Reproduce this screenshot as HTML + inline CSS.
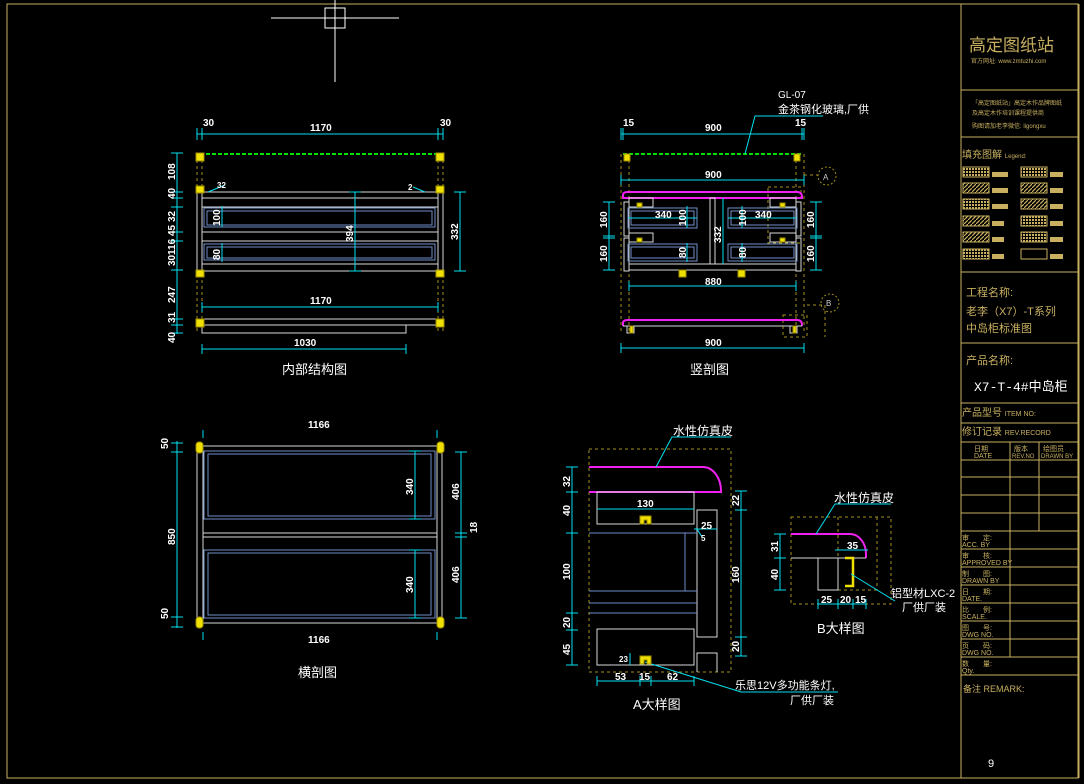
<!DOCTYPE html>
<html><head><meta charset="utf-8"><style>
html,body{margin:0;padding:0;background:#000;}
svg{display:block;}
text{font-family:"Liberation Sans","Noto Sans CJK SC",sans-serif;}
.d{fill:#fff;font-size:10px;font-weight:bold;}
.w{fill:#fff;font-size:13px;}
.g{fill:#c8b060;}
</style></head><body>
<svg width="1084" height="784" viewBox="0 0 1084 784" xmlns="http://www.w3.org/2000/svg">
<defs>
<pattern id="h1" width="4" height="4" patternUnits="userSpaceOnUse"><rect width="4" height="4" fill="#000"/><path d="M0 4L4 0" stroke="#c8b060" stroke-width="1.2"/></pattern>
<pattern id="h2" width="3" height="3" patternUnits="userSpaceOnUse"><rect width="3" height="3" fill="#000"/><rect width="2" height="2" fill="#c8b060"/></pattern>
</defs>
<rect x="0" y="0" width="1084" height="784" fill="#000"/>
<!-- frame -->
<g fill="none" stroke="#c8b060" stroke-width="1">
<rect x="7" y="4" width="1071" height="774"/>
<line x1="961" y1="4" x2="961" y2="778"/>
<line x1="1079" y1="4" x2="1079" y2="778"/>
<line x1="961" y1="90" x2="1079" y2="90"/>
<line x1="961" y1="137" x2="1079" y2="137"/>
<line x1="961" y1="272" x2="1079" y2="272"/>
<line x1="961" y1="343" x2="1079" y2="343"/>
<line x1="961" y1="403" x2="1079" y2="403"/>
<line x1="961" y1="423" x2="1079" y2="423"/>
<line x1="961" y1="442" x2="1079" y2="442"/>
<line x1="961" y1="460" x2="1079" y2="460"/>
<line x1="961" y1="477" x2="1079" y2="477"/>
<line x1="961" y1="495" x2="1079" y2="495"/>
<line x1="961" y1="513" x2="1079" y2="513"/>
<line x1="961" y1="531" x2="1079" y2="531"/>
<line x1="961" y1="549" x2="1079" y2="549"/>
<line x1="961" y1="567" x2="1079" y2="567"/>
<line x1="961" y1="585" x2="1079" y2="585"/>
<line x1="961" y1="603" x2="1079" y2="603"/>
<line x1="961" y1="621" x2="1079" y2="621"/>
<line x1="961" y1="639" x2="1079" y2="639"/>
<line x1="961" y1="657" x2="1079" y2="657"/>
<line x1="961" y1="675" x2="1079" y2="675"/>
<line x1="1010" y1="442" x2="1010" y2="657"/>
<line x1="1039" y1="442" x2="1039" y2="531"/>
</g>
<g class="g">
<text x="969" y="51" font-size="17" fill="#c8b060">高定图纸站</text>
<text x="971" y="63" font-size="6" fill="#c8b060">官方网址: www.zmtuzhi.com</text>
<text x="972" y="105" font-size="6" fill="#c8b060">「高定图纸站」高定木作品牌图纸</text>
<text x="972" y="115" font-size="6" fill="#c8b060">及高定木作培训课程提供商</text>
<text x="972" y="128" font-size="6" fill="#c8b060">购图请加老李微信: ligongxu</text>
<text x="962" y="158" font-size="10" fill="#c8b060">填充图解 <tspan font-size="6">Legend:</tspan></text>
<text x="966" y="296" font-size="11" fill="#c8b060">工程名称:</text>
<text x="966" y="315" font-size="11" fill="#c8b060">老李（X7）-T系列</text>
<text x="966" y="332" font-size="11" fill="#c8b060">中岛柜标准图</text>
<text x="966" y="364" font-size="11" fill="#c8b060">产品名称:</text>
<text x="962" y="416" font-size="10" fill="#c8b060">产品型号 <tspan font-size="7">ITEM NO:</tspan></text>
<text x="962" y="435" font-size="10" fill="#c8b060">修订记录 <tspan font-size="7">REV.RECORD</tspan></text>
<text x="974" y="451" font-size="7" fill="#c8b060">日期</text><text x="974" y="458" font-size="7" fill="#c8b060">DATE</text>
<text x="1014" y="451" font-size="7" fill="#c8b060">版本</text><text x="1012" y="458" font-size="6" fill="#c8b060">REV.NO</text>
<text x="1043" y="451" font-size="7" fill="#c8b060">绘图员</text><text x="1041" y="458" font-size="6" fill="#c8b060">DRAWN BY</text>
<g font-size="7" fill="#c8b060">
<text x="962" y="540">审　　定:</text><text x="962" y="547">ACC. BY</text>
<text x="962" y="558">审　　核:</text><text x="962" y="565">APPROVED BY</text>
<text x="962" y="576">制　　图:</text><text x="962" y="583">DRAWN BY</text>
<text x="962" y="594">日　　期:</text><text x="962" y="601">DATE.</text>
<text x="962" y="612">比　　例:</text><text x="962" y="619">SCALE.</text>
<text x="962" y="630">图　　号:</text><text x="962" y="637">DWG NO.</text>
<text x="962" y="648">页　　码:</text><text x="962" y="655">DWG NO.</text>
<text x="962" y="666">数　　量:</text><text x="962" y="673">Qty.</text>
</g>
<text x="963" y="692" font-size="9" fill="#c8b060">备注 REMARK:</text>
</g>
<text x="974" y="391" font-size="13" fill="#fff" style="font-family:'Liberation Mono','Noto Sans CJK SC',monospace">X7-T-4#中岛柜</text>
<text x="988" y="767" font-size="11" fill="#fff">9</text>
<!-- legend swatches -->
<g stroke="#c8b060" stroke-width="1">
<rect x="963" y="167" width="26" height="10" fill="url(#h2)"/><rect x="1021" y="167" width="26" height="10" fill="url(#h2)"/>
<rect x="963" y="183" width="26" height="10" fill="url(#h1)"/><rect x="1021" y="183" width="26" height="10" fill="url(#h1)"/>
<rect x="963" y="199" width="26" height="10" fill="url(#h2)"/><rect x="1021" y="199" width="26" height="10" fill="url(#h1)"/>
<rect x="963" y="216" width="26" height="10" fill="url(#h1)"/><rect x="1021" y="216" width="26" height="10" fill="url(#h2)"/>
<rect x="963" y="232" width="26" height="10" fill="url(#h1)"/><rect x="1021" y="232" width="26" height="10" fill="url(#h2)"/>
<rect x="963" y="249" width="26" height="10" fill="url(#h2)"/><rect x="1021" y="249" width="26" height="10" fill="#000"/>
</g>
<g fill="#c8b060">
<rect x="992" y="172" width="16" height="5"/><rect x="1050" y="172" width="13" height="5"/>
<rect x="992" y="188" width="16" height="5"/><rect x="1050" y="188" width="13" height="5"/>
<rect x="992" y="204" width="16" height="5"/><rect x="1050" y="204" width="13" height="5"/>
<rect x="992" y="221" width="12" height="5"/><rect x="1050" y="221" width="13" height="5"/>
<rect x="992" y="237" width="12" height="5"/><rect x="1050" y="237" width="13" height="5"/>
<rect x="992" y="254" width="12" height="5"/><rect x="1050" y="254" width="13" height="5"/>
</g>

<!-- crosshair -->
<g stroke="#fff" fill="none" stroke-width="1">
<rect x="325" y="8" width="20" height="20"/>
<line x1="271" y1="18" x2="399" y2="18"/><line x1="335" y1="0" x2="335" y2="82"/>
</g>

<!-- ============ 内部结构图 ============ -->
<g fill="none" stroke-width="1">
<line x1="200" y1="154" x2="440" y2="154" stroke="#00e000" stroke-width="2" stroke-dasharray="4,2"/>
<g stroke="#a09020" stroke-dasharray="3,3"><line x1="197" y1="154" x2="197" y2="333"/><line x1="202" y1="154" x2="202" y2="333"/><line x1="438" y1="154" x2="438" y2="333"/><line x1="443" y1="154" x2="443" y2="333"/></g>
<g stroke="#d8d8d8">
<rect x="197" y="192" width="246" height="79"/>
<line x1="202" y1="192" x2="202" y2="271"/><line x1="438" y1="192" x2="438" y2="271"/>
<line x1="202" y1="198" x2="438" y2="198"/><line x1="202" y1="207" x2="438" y2="207"/>
<line x1="202" y1="232" x2="438" y2="232"/><line x1="202" y1="241" x2="438" y2="241"/>
<line x1="202" y1="264" x2="438" y2="264"/>
<rect x="202" y="319" width="236" height="6"/>
<polyline points="202,325 202,333 406,333 406,325"/>
</g>
<g stroke="#7090c8">
<rect x="204" y="208" width="231" height="19"/><rect x="207" y="211" width="225" height="14"/>
<rect x="204" y="244" width="231" height="16"/><rect x="207" y="247" width="225" height="11"/>
</g>
<g stroke="#00e0f0">
<line x1="197" y1="134" x2="443" y2="134"/>
<line x1="197" y1="128" x2="197" y2="140"/><line x1="202" y1="128" x2="202" y2="140"/><line x1="438" y1="128" x2="438" y2="140"/><line x1="443" y1="128" x2="443" y2="140"/>
<line x1="202" y1="307" x2="438" y2="307"/><line x1="202" y1="302" x2="202" y2="312"/><line x1="438" y1="302" x2="438" y2="312"/>
<line x1="202" y1="349" x2="406" y2="349"/><line x1="202" y1="344" x2="202" y2="354"/><line x1="406" y1="344" x2="406" y2="354"/>
<line x1="177" y1="153" x2="177" y2="334"/>
<g><line x1="171" y1="153" x2="183" y2="153"/><line x1="171" y1="192" x2="183" y2="192"/><line x1="171" y1="198" x2="183" y2="198"/><line x1="171" y1="207" x2="183" y2="207"/><line x1="171" y1="232" x2="183" y2="232"/><line x1="171" y1="241" x2="183" y2="241"/><line x1="171" y1="270" x2="183" y2="270"/><line x1="171" y1="319" x2="183" y2="319"/><line x1="171" y1="325" x2="183" y2="325"/><line x1="171" y1="333" x2="183" y2="333"/></g>
<line x1="355" y1="192" x2="355" y2="271"/><line x1="349" y1="192" x2="361" y2="192"/><line x1="349" y1="271" x2="361" y2="271"/>
<line x1="460" y1="192" x2="460" y2="271"/><line x1="454" y1="192" x2="466" y2="192"/><line x1="454" y1="271" x2="466" y2="271"/>
<line x1="222" y1="206" x2="222" y2="227"/><line x1="222" y1="243" x2="222" y2="262"/>
<line x1="208" y1="192" x2="225" y2="185"/><line x1="425" y1="192" x2="413" y2="187"/>
</g>
<g fill="#f0e000" stroke="#a09000">
<rect x="196" y="153" width="8" height="8"/><rect x="436" y="153" width="8" height="8"/>
<rect x="196" y="186" width="8" height="7"/><rect x="436" y="186" width="8" height="7"/>
<rect x="196" y="270" width="8" height="7"/><rect x="436" y="270" width="8" height="7"/>
<rect x="196" y="319" width="8" height="8"/><rect x="436" y="319" width="8" height="8"/>
</g>
</g>
<g class="d">
<text x="203" y="126">30</text><text x="310" y="131">1170</text><text x="440" y="126">30</text>
<text x="310" y="304">1170</text><text x="294" y="346">1030</text>
<text transform="translate(175,180) rotate(-90)">108</text>
<text transform="translate(175,199) rotate(-90)">40</text>
<text transform="translate(175,222) rotate(-90)">32</text>
<text transform="translate(175,236) rotate(-90)">45</text>
<text transform="translate(175,266) rotate(-90)">30</text>
<text transform="translate(175,255) rotate(-90)">116</text>
<text transform="translate(175,303) rotate(-90)">247</text>
<text transform="translate(175,323) rotate(-90)">31</text>
<text transform="translate(175,343) rotate(-90)">40</text>
<text transform="translate(353,242) rotate(-90)">394</text>
<text transform="translate(458,240) rotate(-90)">332</text>
<text transform="translate(220,226) rotate(-90)">100</text>
<text transform="translate(220,260) rotate(-90)">80</text>
<text x="217" y="188" font-size="8">32</text><text x="408" y="190" font-size="8">2</text>
</g>
<text x="282" y="374" class="w">内部结构图</text>

<!-- ============ 竖剖图 ============ -->
<g fill="none" stroke-width="1">
<line x1="623" y1="154" x2="802" y2="154" stroke="#00e000" stroke-width="2" stroke-dasharray="4,2"/>
<g stroke="#a09020" stroke-dasharray="3,3"><line x1="621" y1="154" x2="621" y2="333"/><line x1="629" y1="154" x2="629" y2="333"/><line x1="796" y1="154" x2="796" y2="333"/><line x1="804" y1="154" x2="804" y2="333"/>
<rect x="768" y="187" width="33" height="56"/><rect x="783" y="315" width="24" height="22"/>
<polyline points="804,175 818,175"/><polyline points="807,305 825,305 825,337"/></g>
<g stroke="#a09020" stroke-dasharray="2,2"><circle cx="827" cy="176" r="9"/><circle cx="830" cy="303" r="9"/></g>
<path d="M623,198 L623,195 Q623,192 628,192 L797,192 Q802,192 802,197 L802,198 Z" stroke="#f020f0" stroke-width="2"/>
<path d="M623,326 L623,323 Q623,320 628,320 L797,320 Q802,320 802,325 L802,326" stroke="#f020f0" stroke-width="2"/>
<g stroke="#d8d8d8">
<rect x="624" y="202" width="5" height="34"/><rect x="624" y="238" width="5" height="33"/>
<rect x="796" y="202" width="5" height="34"/><rect x="796" y="238" width="5" height="33"/>
<rect x="629" y="198" width="24" height="9"/><rect x="629" y="233" width="24" height="9"/>
<rect x="770" y="198" width="26" height="9"/><rect x="770" y="233" width="26" height="9"/>
<rect x="710" y="198" width="5" height="66"/>
<rect x="629" y="264" width="167" height="6"/>
<line x1="623" y1="326" x2="802" y2="326"/>
<rect x="627" y="326" width="7" height="7"/><rect x="790" y="326" width="7" height="7"/>
</g>
<g stroke="#7090c8">
<rect x="628" y="208" width="69" height="20"/><rect x="631" y="211" width="63" height="14"/>
<rect x="628" y="244" width="69" height="17"/><rect x="631" y="247" width="63" height="11"/>
<rect x="728" y="208" width="69" height="20"/><rect x="731" y="211" width="63" height="14"/>
<rect x="728" y="244" width="69" height="17"/><rect x="731" y="247" width="63" height="11"/>
</g>
<g stroke="#00e0f0">
<line x1="621" y1="134" x2="804" y2="134"/><line x1="621" y1="128" x2="621" y2="140"/><line x1="623" y1="128" x2="623" y2="140"/><line x1="802" y1="128" x2="802" y2="140"/><line x1="804" y1="128" x2="804" y2="140"/>
<line x1="621" y1="180" x2="804" y2="180"/><line x1="621" y1="175" x2="621" y2="185"/><line x1="804" y1="175" x2="804" y2="185"/>
<line x1="629" y1="286" x2="796" y2="286"/><line x1="629" y1="281" x2="629" y2="291"/><line x1="796" y1="281" x2="796" y2="291"/>
<line x1="621" y1="348" x2="804" y2="348"/><line x1="621" y1="343" x2="621" y2="353"/><line x1="804" y1="343" x2="804" y2="353"/>
<line x1="609" y1="202" x2="609" y2="270"/><line x1="603" y1="202" x2="615" y2="202"/><line x1="603" y1="236" x2="615" y2="236"/><line x1="603" y1="238" x2="615" y2="238"/><line x1="603" y1="270" x2="615" y2="270"/>
<line x1="816" y1="202" x2="816" y2="270"/><line x1="810" y1="202" x2="822" y2="202"/><line x1="810" y1="236" x2="822" y2="236"/><line x1="810" y1="238" x2="822" y2="238"/><line x1="810" y1="270" x2="822" y2="270"/>
<line x1="723" y1="198" x2="723" y2="264"/>
<line x1="628" y1="218" x2="697" y2="218"/><line x1="728" y1="218" x2="797" y2="218"/>
<line x1="687" y1="206" x2="687" y2="228"/><line x1="742" y1="206" x2="742" y2="228"/>
<line x1="687" y1="243" x2="687" y2="262"/><line x1="742" y1="243" x2="742" y2="262"/>
<polyline points="745,154 755,116 823,116"/>
</g>
<g fill="#f0e000" stroke="#a09000">
<rect x="624" y="154" width="6" height="7"/><rect x="794" y="154" width="6" height="7"/>
<rect x="637" y="203" width="5" height="4"/><rect x="637" y="238" width="5" height="4"/>
<rect x="780" y="203" width="5" height="4"/><rect x="780" y="238" width="5" height="4"/>
<rect x="679" y="270" width="7" height="7"/><rect x="738" y="270" width="7" height="7"/>
<rect x="630" y="326" width="3" height="7"/><rect x="793" y="326" width="3" height="7"/>
</g>
</g>
<g class="d">
<text x="623" y="126">15</text><text x="705" y="131">900</text><text x="795" y="126">15</text>
<text x="705" y="178">900</text><text x="705" y="285">880</text><text x="705" y="346">900</text>
<text x="655" y="218">340</text><text x="755" y="218">340</text>
<text transform="translate(607,228) rotate(-90)">160</text><text transform="translate(607,262) rotate(-90)">160</text>
<text transform="translate(814,228) rotate(-90)">160</text><text transform="translate(814,262) rotate(-90)">160</text>
<text transform="translate(721,243) rotate(-90)">332</text>
<text transform="translate(686,226) rotate(-90)">100</text><text transform="translate(746,226) rotate(-90)">100</text>
<text transform="translate(686,258) rotate(-90)">80</text><text transform="translate(746,258) rotate(-90)">80</text>
</g>
<text x="823" y="180" fill="#ccc" font-size="8">A</text><text x="826" y="306" fill="#ccc" font-size="8">B</text>
<text x="778" y="98" fill="#fff" font-size="10">GL-07</text>
<text x="778" y="113" fill="#fff" font-size="11">金茶钢化玻璃,厂供</text>
<text x="690" y="374" class="w">竖剖图</text>

<!-- ============ 横剖图 ============ -->
<g fill="none" stroke-width="1">
<g stroke="#d8d8d8">
<rect x="197" y="446" width="245" height="177"/>
<line x1="203" y1="446" x2="203" y2="623"/><line x1="437" y1="446" x2="437" y2="623"/>
<line x1="203" y1="533" x2="437" y2="533"/><line x1="203" y1="537" x2="437" y2="537"/>
</g>
<g stroke="#7090c8">
<rect x="204" y="451" width="231" height="68"/><rect x="208" y="454" width="223" height="62"/>
<rect x="204" y="550" width="231" height="68"/><rect x="208" y="553" width="223" height="62"/>
</g>
<g stroke="#00e0f0">
<line x1="177" y1="441" x2="177" y2="628"/><line x1="171" y1="443" x2="183" y2="443"/><line x1="171" y1="452" x2="183" y2="452"/><line x1="171" y1="617" x2="183" y2="617"/><line x1="171" y1="627" x2="183" y2="627"/>
<line x1="461" y1="452" x2="461" y2="618"/><line x1="455" y1="452" x2="467" y2="452"/><line x1="455" y1="533" x2="467" y2="533"/><line x1="455" y1="537" x2="467" y2="537"/><line x1="455" y1="618" x2="467" y2="618"/>
<line x1="415" y1="451" x2="415" y2="519"/><line x1="409" y1="451" x2="421" y2="451"/><line x1="409" y1="519" x2="421" y2="519"/>
<line x1="415" y1="550" x2="415" y2="618"/><line x1="409" y1="550" x2="421" y2="550"/><line x1="409" y1="618" x2="421" y2="618"/>
<line x1="203" y1="430" x2="203" y2="438"/><line x1="437" y1="430" x2="437" y2="438"/>
<line x1="203" y1="632" x2="203" y2="640"/><line x1="437" y1="632" x2="437" y2="640"/>
</g>
<g fill="#f0e000" stroke="#a09000">
<rect x="196" y="442" width="7" height="11" rx="3"/><rect x="437" y="442" width="7" height="11" rx="3"/>
<rect x="196" y="617" width="7" height="11" rx="3"/><rect x="437" y="617" width="7" height="11" rx="3"/>
</g>
</g>
<g class="d">
<text x="308" y="428">1166</text><text x="308" y="643">1166</text>
<text transform="translate(168,449) rotate(-90)">50</text><text transform="translate(175,545) rotate(-90)">850</text><text transform="translate(168,619) rotate(-90)">50</text>
<text transform="translate(413,495) rotate(-90)">340</text><text transform="translate(413,593) rotate(-90)">340</text>
<text transform="translate(459,500) rotate(-90)">406</text><text transform="translate(459,583) rotate(-90)">406</text>
<text transform="translate(477,533) rotate(-90)">18</text>
</g>
<text x="298" y="677" class="w">横剖图</text>

<!-- ============ A大样图 ============ -->
<g fill="none" stroke-width="1">
<rect x="589" y="449" width="142" height="223" stroke="#a09020" stroke-dasharray="3,3"/>
<path d="M589,467 L703,467 A18,24 0 0 1 721,491 L721,492 L589,492" stroke="#f020f0" stroke-width="2"/>
<g stroke="#d8d8d8">
<rect x="597" y="492" width="97" height="32"/>
<rect x="697" y="510" width="20" height="127"/>
<rect x="597" y="629" width="97" height="36"/>
<polyline points="697,672 697,653 717,653 717,672"/>
</g>
<g stroke="#7090c8">
<line x1="589" y1="533" x2="697" y2="533"/><line x1="685" y1="533" x2="685" y2="591"/>
<line x1="589" y1="591" x2="697" y2="591"/><line x1="589" y1="603" x2="697" y2="603"/><line x1="589" y1="613" x2="697" y2="613"/>
</g>
<g stroke="#00e0f0">
<line x1="572" y1="467" x2="572" y2="665"/>
<line x1="566" y1="467" x2="578" y2="467"/><line x1="566" y1="492" x2="578" y2="492"/><line x1="566" y1="533" x2="578" y2="533"/><line x1="566" y1="613" x2="578" y2="613"/><line x1="566" y1="630" x2="578" y2="630"/><line x1="566" y1="665" x2="578" y2="665"/>
<line x1="741" y1="491" x2="741" y2="656"/><line x1="735" y1="491" x2="747" y2="491"/><line x1="735" y1="510" x2="747" y2="510"/><line x1="735" y1="637" x2="747" y2="637"/><line x1="735" y1="656" x2="747" y2="656"/>
<line x1="597" y1="681" x2="694" y2="681"/><line x1="597" y1="676" x2="597" y2="686"/><line x1="640" y1="676" x2="640" y2="686"/><line x1="651" y1="676" x2="651" y2="686"/><line x1="694" y1="676" x2="694" y2="686"/>
<line x1="597" y1="509" x2="694" y2="509"/>
<line x1="694" y1="529" x2="717" y2="529"/><line x1="697" y1="529" x2="702" y2="537"/>
<line x1="630" y1="653" x2="630" y2="665"/>
<polyline points="656,467 672,437 731,437"/>
<polyline points="645,662 741,692 838,692"/>
</g>
<path d="M640,524 L640,516 L651,516 L651,524 L647,524 L647,520 L644,520 L644,524 Z" fill="#f0e000" stroke="#a09000"/>
<path d="M640,664 L640,656 L651,656 L651,664 L647,664 L647,660 L644,660 L644,664 Z" fill="#f0e000" stroke="#a09000"/>
</g>
<g class="d">
<text transform="translate(570,487) rotate(-90)">32</text><text transform="translate(570,516) rotate(-90)">40</text>
<text transform="translate(570,580) rotate(-90)">100</text><text transform="translate(570,628) rotate(-90)">20</text>
<text transform="translate(570,655) rotate(-90)">45</text>
<text transform="translate(739,506) rotate(-90)">22</text><text transform="translate(739,583) rotate(-90)">160</text><text transform="translate(739,652) rotate(-90)">20</text>
<text x="637" y="507">130</text><text x="701" y="529">25</text><text x="701" y="541" font-size="8">5</text>
<text x="615" y="680">53</text><text x="639" y="680">15</text><text x="667" y="680">62</text>
<text x="619" y="662" font-size="8">23</text>
</g>
<text x="673" y="435" fill="#fff" font-size="12">水性仿真皮</text>
<text x="735" y="689" fill="#fff" font-size="11">乐思12V多功能条灯,</text>
<text x="790" y="704" fill="#fff" font-size="11">厂供厂装</text>
<text x="633" y="709" class="w">A大样图</text>

<!-- ============ B大样图 ============ -->
<g fill="none" stroke-width="1">
<rect x="791" y="517" width="100" height="87" stroke="#a09020" stroke-dasharray="3,3"/>
<line x1="838" y1="517" x2="838" y2="590" stroke="#a09020" stroke-dasharray="3,3"/>
<line x1="877" y1="517" x2="877" y2="590" stroke="#a09020" stroke-dasharray="3,3"/>
<line x1="838" y1="590" x2="877" y2="590" stroke="#a09020" stroke-dasharray="3,3"/>
<path d="M791,534 L850,534 A16,20 0 0 1 866,554 L866,558" stroke="#f020f0" stroke-width="2"/>
<g stroke="#d8d8d8"><line x1="791" y1="558" x2="866" y2="558"/><rect x="818" y="558" width="20" height="32"/></g>
<path d="M845,558 L853,558 L853,586 L845,586" stroke="#f0e000" stroke-width="2.5"/>
<g stroke="#00e0f0">
<line x1="780" y1="534" x2="780" y2="590"/><line x1="774" y1="534" x2="786" y2="534"/><line x1="774" y1="558" x2="786" y2="558"/><line x1="774" y1="590" x2="786" y2="590"/>
<line x1="818" y1="604" x2="866" y2="604"/><line x1="818" y1="599" x2="818" y2="609"/><line x1="838" y1="599" x2="838" y2="609"/><line x1="853" y1="599" x2="853" y2="609"/><line x1="866" y1="599" x2="866" y2="609"/>
<line x1="835" y1="550" x2="868" y2="550"/>
<polyline points="816,534 835,504 891,504"/>
<polyline points="851,574 895,601"/>
</g>
</g>
<g class="d">
<text transform="translate(778,552) rotate(-90)">31</text><text transform="translate(778,580) rotate(-90)">40</text>
<text x="847" y="549">35</text><text x="821" y="603">25</text><text x="840" y="603">20</text><text x="855" y="603">15</text>
</g>
<text x="834" y="502" fill="#fff" font-size="12">水性仿真皮</text>
<text x="891" y="597" fill="#fff" font-size="11">铝型材LXC-2</text>
<text x="902" y="611" fill="#fff" font-size="11">厂供厂装</text>
<text x="817" y="633" class="w">B大样图</text>
</svg>
</body></html>
